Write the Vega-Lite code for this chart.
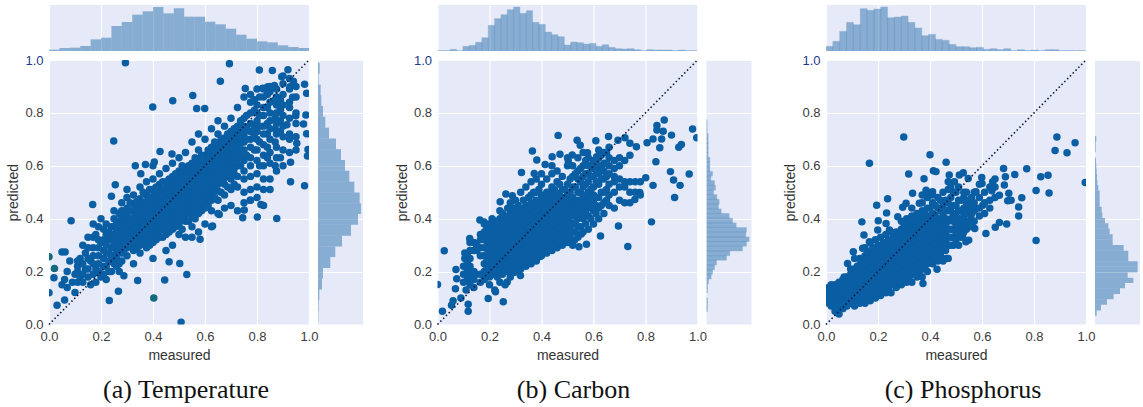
{"$schema":"https://vega.github.io/schema/vega-lite/v6.json","padding":{"left":6,"top":5,"right":0,"bottom":0},"background":"white","spacing":31.5,"config":{"view":{"fill":"#E6EAF8","stroke":null},"font":"Liberation Sans"},
"datasets":{
"pa":[{"x":0.294,"y":0.99},{"x":0.694,"y":0.986},{"x":0.809,"y":0.962},{"x":0.859,"y":0.96},{"x":0.919,"y":0.963},{"x":0.659,"y":0.92},{"x":0.895,"y":0.937},{"x":0.94,"y":0.92},{"x":0.983,"y":0.908},{"x":0.553,"y":0.866},{"x":0.476,"y":0.846},{"x":0.399,"y":0.822},{"x":0.568,"y":0.817},{"x":0.599,"y":0.817},{"x":0.249,"y":0.694},{"x":0.755,"y":0.892},{"x":0.822,"y":0.893},{"x":0.841,"y":0.899},{"x":0.867,"y":0.904},{"x":0.927,"y":0.899},{"x":0.991,"y":0.874},{"x":0.937,"y":0.859},{"x":0.988,"y":0.792},{"x":0.979,"y":0.758},{"x":0.991,"y":0.721},{"x":0.996,"y":0.662},{"x":0.994,"y":0.637},{"x":0.983,"y":0.525},{"x":0.929,"y":0.54},{"x":0.929,"y":0.613},{"x":0.953,"y":0.685},{"x":0.915,"y":0.755},{"x":0.949,"y":0.789},{"x":0.876,"y":0.401},{"x":0.801,"y":0.406},{"x":0.745,"y":0.404},{"x":0.815,"y":0.454},{"x":0.774,"y":0.47},{"x":0.751,"y":0.433},{"x":0.655,"y":0.416},{"x":0.629,"y":0.372},{"x":0.581,"y":0.322},{"x":0.53,"y":0.189},{"x":0.503,"y":0.231},{"x":0.462,"y":0.237},{"x":0.445,"y":0.168},{"x":0.508,"y":0.009},{"x":0.232,"y":0.091},{"x":0.267,"y":0.126},{"x":0.341,"y":0.166},{"x":0.288,"y":0.184},{"x":0.031,"y":0.073},{"x":0.06,"y":0.093},{"x":0.1,"y":0.121},{"x":0,"y":0.12},{"x":0.019,"y":0.177},{"x":0.05,"y":0.274},{"x":0.062,"y":0.274},{"x":0.085,"y":0.392},{"x":0.168,"y":0.454},{"x":0.255,"y":0.528},{"x":0.24,"y":0.485},{"x":0.332,"y":0.6},{"x":0.353,"y":0.57},{"x":0.427,"y":0.654},{"x":0.371,"y":0.605},{"x":0.405,"y":0.614},{"x":0.473,"y":0.645},
{"x":0.05,"y":0.15},{"x":0.06,"y":0.17},{"x":0.07,"y":0.14},{"x":0.07,"y":0.2},{"x":0.08,"y":0.24},{"x":0.09,"y":0.16},{"x":0.1,"y":0.19},{"x":0.11,"y":0.22},{"x":0.12,"y":0.18},{"x":0.12,"y":0.25},{"x":0.13,"y":0.16},{"x":0.13,"y":0.3},{"x":0.14,"y":0.21},{"x":0.14,"y":0.27},{"x":0.15,"y":0.18},{"x":0.15,"y":0.33},{"x":0.16,"y":0.15},{"x":0.16,"y":0.24},{"x":0.17,"y":0.29},{"x":0.17,"y":0.38},{"x":0.18,"y":0.16},{"x":0.18,"y":0.21},{"x":0.18,"y":0.34},{"x":0.19,"y":0.26},{"x":0.2,"y":0.18},{"x":0.2,"y":0.31},{"x":0.2,"y":0.4},{"x":0.21,"y":0.22},{"x":0.21,"y":0.36},{"x":0.22,"y":0.17},{"x":0.22,"y":0.27},{"x":0.23,"y":0.32},{"x":0.23,"y":0.24},{"x":0.24,"y":0.2},{"x":0.24,"y":0.29},{"x":0.24,"y":0.37},{"x":0.25,"y":0.26},{"x":0.25,"y":0.34},{"x":0.25,"y":0.43},{"x":0.26,"y":0.22},{"x":0.26,"y":0.3},{"x":0.26,"y":0.39},
{"x":0.11,"y":0.16},{"x":0.11,"y":0.2},{"x":0.11,"y":0.24},{"x":0.13,"y":0.19},{"x":0.13,"y":0.23},{"x":0.15,"y":0.21},{"x":0.15,"y":0.25},{"x":0.15,"y":0.29},{"x":0.17,"y":0.19},{"x":0.17,"y":0.23},{"x":0.17,"y":0.26},{"x":0.17,"y":0.33},{"x":0.19,"y":0.2},{"x":0.19,"y":0.23},{"x":0.19,"y":0.29},{"x":0.19,"y":0.32},{"x":0.19,"y":0.37},{"x":0.21,"y":0.19},{"x":0.21,"y":0.25},{"x":0.21,"y":0.28},{"x":0.21,"y":0.32},{"x":0.22,"y":0.22},{"x":0.22,"y":0.3},{"x":0.22,"y":0.34},{"x":0.22,"y":0.38},{"x":0.23,"y":0.2},{"x":0.23,"y":0.27},{"x":0.23,"y":0.35},{"x":0.24,"y":0.24},{"x":0.24,"y":0.26},{"x":0.24,"y":0.32},{"x":0.24,"y":0.34},{"x":0.25,"y":0.23},{"x":0.25,"y":0.29},{"x":0.25,"y":0.31},{"x":0.25,"y":0.37},{"x":0.25,"y":0.4},{"x":0.26,"y":0.25},{"x":0.26,"y":0.27},{"x":0.26,"y":0.33},{"x":0.26,"y":0.36},{"x":0.27,"y":0.2},{"x":0.27,"y":0.23},{"x":0.27,"y":0.28},{"x":0.27,"y":0.31},{"x":0.27,"y":0.35},{"x":0.27,"y":0.38},{"x":0.27,"y":0.42},
{"x":0.28,"y":0.24},{"x":0.28,"y":0.27},{"x":0.28,"y":0.3},{"x":0.28,"y":0.325},{"x":0.28,"y":0.35},{"x":0.28,"y":0.375},{"x":0.28,"y":0.4},{"x":0.28,"y":0.43},{"x":0.28,"y":0.46},
{"x":0.3,"y":0.26},{"x":0.3,"y":0.29},{"x":0.3,"y":0.315},{"x":0.3,"y":0.34},{"x":0.3,"y":0.365},{"x":0.3,"y":0.39},{"x":0.3,"y":0.415},{"x":0.3,"y":0.44},{"x":0.3,"y":0.48},{"x":0.3,"y":0.51},
{"x":0.325,"y":0.23},{"x":0.325,"y":0.28},{"x":0.325,"y":0.305},{"x":0.325,"y":0.33},{"x":0.325,"y":0.355},{"x":0.325,"y":0.38},{"x":0.325,"y":0.405},{"x":0.325,"y":0.43},{"x":0.325,"y":0.455},{"x":0.325,"y":0.49},
{"x":0.35,"y":0.27},{"x":0.35,"y":0.3},{"x":0.35,"y":0.325},{"x":0.35,"y":0.35},{"x":0.35,"y":0.375},{"x":0.35,"y":0.4},{"x":0.35,"y":0.425},{"x":0.35,"y":0.45},{"x":0.35,"y":0.475},{"x":0.35,"y":0.52},
{"x":0.375,"y":0.29},{"x":0.375,"y":0.315},{"x":0.375,"y":0.34},{"x":0.375,"y":0.365},{"x":0.375,"y":0.39},{"x":0.375,"y":0.415},{"x":0.375,"y":0.44},{"x":0.375,"y":0.465},{"x":0.375,"y":0.49},{"x":0.375,"y":0.54},
{"x":0.4,"y":0.25},{"x":0.4,"y":0.31},{"x":0.4,"y":0.335},{"x":0.4,"y":0.36},{"x":0.4,"y":0.385},{"x":0.4,"y":0.41},{"x":0.4,"y":0.435},{"x":0.4,"y":0.46},{"x":0.4,"y":0.485},{"x":0.4,"y":0.51},{"x":0.4,"y":0.55},{"x":0.4,"y":0.6},
{"x":0.425,"y":0.33},{"x":0.425,"y":0.355},{"x":0.425,"y":0.38},{"x":0.425,"y":0.405},{"x":0.425,"y":0.43},{"x":0.425,"y":0.455},{"x":0.425,"y":0.48},{"x":0.425,"y":0.505},{"x":0.425,"y":0.53},{"x":0.425,"y":0.57},
{"x":0.45,"y":0.28},{"x":0.45,"y":0.34},{"x":0.45,"y":0.365},{"x":0.45,"y":0.39},{"x":0.45,"y":0.415},{"x":0.45,"y":0.44},{"x":0.45,"y":0.465},{"x":0.45,"y":0.49},{"x":0.45,"y":0.515},{"x":0.45,"y":0.54},{"x":0.45,"y":0.59},
{"x":0.475,"y":0.3},{"x":0.475,"y":0.36},{"x":0.475,"y":0.385},{"x":0.475,"y":0.41},{"x":0.475,"y":0.435},{"x":0.475,"y":0.46},{"x":0.475,"y":0.485},{"x":0.475,"y":0.51},{"x":0.475,"y":0.535},{"x":0.475,"y":0.56},{"x":0.475,"y":0.61},
{"x":0.5,"y":0.34},{"x":0.5,"y":0.38},{"x":0.5,"y":0.405},{"x":0.5,"y":0.43},{"x":0.5,"y":0.455},{"x":0.5,"y":0.48},{"x":0.5,"y":0.505},{"x":0.5,"y":0.53},{"x":0.5,"y":0.555},{"x":0.5,"y":0.58},{"x":0.5,"y":0.63},
{"x":0.525,"y":0.33},{"x":0.525,"y":0.39},{"x":0.525,"y":0.415},{"x":0.525,"y":0.44},{"x":0.525,"y":0.465},{"x":0.525,"y":0.49},{"x":0.525,"y":0.515},{"x":0.525,"y":0.54},{"x":0.525,"y":0.565},{"x":0.525,"y":0.59},{"x":0.525,"y":0.65},
{"x":0.55,"y":0.33},{"x":0.55,"y":0.37},{"x":0.55,"y":0.41},{"x":0.55,"y":0.435},{"x":0.55,"y":0.46},{"x":0.55,"y":0.485},{"x":0.55,"y":0.51},{"x":0.55,"y":0.535},{"x":0.55,"y":0.56},{"x":0.55,"y":0.585},{"x":0.55,"y":0.61},{"x":0.55,"y":0.69},
{"x":0.575,"y":0.35},{"x":0.575,"y":0.42},{"x":0.575,"y":0.445},{"x":0.575,"y":0.47},{"x":0.575,"y":0.495},{"x":0.575,"y":0.52},{"x":0.575,"y":0.545},{"x":0.575,"y":0.57},{"x":0.575,"y":0.595},{"x":0.575,"y":0.62},{"x":0.575,"y":0.66},{"x":0.575,"y":0.72},
{"x":0.6,"y":0.38},{"x":0.6,"y":0.44},{"x":0.6,"y":0.465},{"x":0.6,"y":0.49},{"x":0.6,"y":0.515},{"x":0.6,"y":0.54},{"x":0.6,"y":0.565},{"x":0.6,"y":0.59},{"x":0.6,"y":0.615},{"x":0.6,"y":0.64},{"x":0.6,"y":0.7},
{"x":0.625,"y":0.37},{"x":0.625,"y":0.43},{"x":0.625,"y":0.47},{"x":0.625,"y":0.495},{"x":0.625,"y":0.52},{"x":0.625,"y":0.545},{"x":0.625,"y":0.57},{"x":0.625,"y":0.595},{"x":0.625,"y":0.62},{"x":0.625,"y":0.645},{"x":0.625,"y":0.67},{"x":0.625,"y":0.74},
{"x":0.65,"y":0.42},{"x":0.65,"y":0.47},{"x":0.65,"y":0.505},{"x":0.65,"y":0.53},{"x":0.65,"y":0.555},{"x":0.65,"y":0.58},{"x":0.65,"y":0.605},{"x":0.65,"y":0.63},{"x":0.65,"y":0.655},{"x":0.65,"y":0.68},{"x":0.65,"y":0.72},{"x":0.65,"y":0.77},
{"x":0.675,"y":0.44},{"x":0.675,"y":0.49},{"x":0.675,"y":0.53},{"x":0.675,"y":0.555},{"x":0.675,"y":0.58},{"x":0.675,"y":0.605},{"x":0.675,"y":0.63},{"x":0.675,"y":0.655},{"x":0.675,"y":0.68},{"x":0.675,"y":0.705},{"x":0.675,"y":0.75},
{"x":0.7,"y":0.45},{"x":0.7,"y":0.51},{"x":0.7,"y":0.55},{"x":0.7,"y":0.58},{"x":0.7,"y":0.605},{"x":0.7,"y":0.63},{"x":0.7,"y":0.655},{"x":0.7,"y":0.68},{"x":0.7,"y":0.705},{"x":0.7,"y":0.73},{"x":0.7,"y":0.78},
{"x":0.725,"y":0.43},{"x":0.725,"y":0.52},{"x":0.725,"y":0.56},{"x":0.725,"y":0.6},{"x":0.725,"y":0.625},{"x":0.725,"y":0.65},{"x":0.725,"y":0.675},{"x":0.725,"y":0.7},{"x":0.725,"y":0.725},{"x":0.725,"y":0.75},{"x":0.725,"y":0.82},
{"x":0.75,"y":0.46},{"x":0.75,"y":0.5},{"x":0.75,"y":0.55},{"x":0.75,"y":0.58},{"x":0.75,"y":0.62},{"x":0.75,"y":0.66},{"x":0.75,"y":0.69},{"x":0.75,"y":0.72},{"x":0.75,"y":0.75},{"x":0.75,"y":0.78},{"x":0.75,"y":0.86},
{"x":0.775,"y":0.47},{"x":0.775,"y":0.51},{"x":0.775,"y":0.56},{"x":0.775,"y":0.6},{"x":0.775,"y":0.63},{"x":0.775,"y":0.67},{"x":0.775,"y":0.7},{"x":0.775,"y":0.73},{"x":0.775,"y":0.76},{"x":0.775,"y":0.8},{"x":0.775,"y":0.84},{"x":0.775,"y":0.87},
{"x":0.8,"y":0.48},{"x":0.8,"y":0.52},{"x":0.8,"y":0.57},{"x":0.8,"y":0.62},{"x":0.8,"y":0.66},{"x":0.8,"y":0.7},{"x":0.8,"y":0.73},{"x":0.8,"y":0.77},{"x":0.8,"y":0.8},{"x":0.8,"y":0.83},{"x":0.8,"y":0.89},
{"x":0.825,"y":0.45},{"x":0.825,"y":0.51},{"x":0.825,"y":0.55},{"x":0.825,"y":0.6},{"x":0.825,"y":0.64},{"x":0.825,"y":0.68},{"x":0.825,"y":0.72},{"x":0.825,"y":0.75},{"x":0.825,"y":0.79},{"x":0.825,"y":0.82},{"x":0.825,"y":0.86},{"x":0.825,"y":0.89},
{"x":0.85,"y":0.51},{"x":0.85,"y":0.55},{"x":0.85,"y":0.61},{"x":0.85,"y":0.65},{"x":0.85,"y":0.7},{"x":0.85,"y":0.74},{"x":0.85,"y":0.77},{"x":0.85,"y":0.8},{"x":0.85,"y":0.84},{"x":0.85,"y":0.88},{"x":0.85,"y":0.9},
{"x":0.875,"y":0.58},{"x":0.875,"y":0.63},{"x":0.875,"y":0.67},{"x":0.875,"y":0.72},{"x":0.875,"y":0.76},{"x":0.875,"y":0.8},{"x":0.875,"y":0.83},{"x":0.875,"y":0.86},{"x":0.875,"y":0.89},
{"x":0.9,"y":0.6},{"x":0.9,"y":0.66},{"x":0.9,"y":0.71},{"x":0.9,"y":0.75},{"x":0.9,"y":0.79},{"x":0.9,"y":0.83},{"x":0.9,"y":0.87},{"x":0.9,"y":0.91},{"x":0.9,"y":0.94},
{"x":0.925,"y":0.65},{"x":0.925,"y":0.7},{"x":0.925,"y":0.72},{"x":0.925,"y":0.78},{"x":0.925,"y":0.82},{"x":0.925,"y":0.84},{"x":0.925,"y":0.89},{"x":0.925,"y":0.93},
{"x":0.95,"y":0.66},{"x":0.95,"y":0.71},{"x":0.95,"y":0.76},{"x":0.95,"y":0.8},{"x":0.95,"y":0.86},{"x":0.95,"y":0.9},
{"x":0.29,"y":0.285},{"x":0.29,"y":0.31},{"x":0.29,"y":0.335},{"x":0.29,"y":0.36},{"x":0.29,"y":0.385},{"x":0.29,"y":0.41},{"x":0.312,"y":0.3},{"x":0.312,"y":0.325},{"x":0.312,"y":0.35},{"x":0.312,"y":0.375},{"x":0.312,"y":0.4},{"x":0.312,"y":0.43},{"x":0.312,"y":0.46},{"x":0.337,"y":0.29},{"x":0.337,"y":0.315},{"x":0.337,"y":0.34},{"x":0.337,"y":0.365},{"x":0.337,"y":0.39},{"x":0.337,"y":0.415},{"x":0.337,"y":0.44},{"x":0.337,"y":0.465},{"x":0.362,"y":0.31},{"x":0.362,"y":0.335},{"x":0.362,"y":0.36},{"x":0.362,"y":0.385},{"x":0.362,"y":0.41},{"x":0.362,"y":0.435},{"x":0.362,"y":0.46},{"x":0.362,"y":0.5},{"x":0.387,"y":0.3},{"x":0.387,"y":0.33},{"x":0.387,"y":0.355},{"x":0.387,"y":0.38},{"x":0.387,"y":0.405},{"x":0.387,"y":0.43},{"x":0.387,"y":0.455},{"x":0.387,"y":0.48},{"x":0.387,"y":0.51},{"x":0.412,"y":0.32},{"x":0.412,"y":0.345},{"x":0.412,"y":0.37},{"x":0.412,"y":0.395},{"x":0.412,"y":0.42},{"x":0.412,"y":0.445},{"x":0.412,"y":0.47},{"x":0.412,"y":0.495},{"x":0.412,"y":0.52},{"x":0.437,"y":0.33},{"x":0.437,"y":0.36},{"x":0.437,"y":0.385},{"x":0.437,"y":0.41},{"x":0.437,"y":0.435},{"x":0.437,"y":0.46},{"x":0.437,"y":0.485},{"x":0.437,"y":0.51},{"x":0.437,"y":0.54},{"x":0.462,"y":0.35},{"x":0.462,"y":0.375},{"x":0.462,"y":0.4},{"x":0.462,"y":0.425},{"x":0.462,"y":0.45},{"x":0.462,"y":0.475},{"x":0.462,"y":0.5},{"x":0.462,"y":0.525},{"x":0.462,"y":0.55},{"x":0.487,"y":0.37},{"x":0.487,"y":0.395},{"x":0.487,"y":0.42},{"x":0.487,"y":0.445},{"x":0.487,"y":0.47},{"x":0.487,"y":0.495},{"x":0.487,"y":0.52},{"x":0.487,"y":0.545},{"x":0.487,"y":0.57},{"x":0.512,"y":0.36},{"x":0.512,"y":0.395},{"x":0.512,"y":0.42},{"x":0.512,"y":0.445},{"x":0.512,"y":0.47},{"x":0.512,"y":0.495},{"x":0.512,"y":0.52},{"x":0.512,"y":0.545},{"x":0.512,"y":0.57},{"x":0.512,"y":0.6},{"x":0.537,"y":0.39},{"x":0.537,"y":0.42},{"x":0.537,"y":0.45},{"x":0.537,"y":0.475},{"x":0.537,"y":0.5},{"x":0.537,"y":0.525},{"x":0.537,"y":0.55},{"x":0.537,"y":0.575},{"x":0.537,"y":0.6},{"x":0.562,"y":0.4},{"x":0.562,"y":0.425},{"x":0.562,"y":0.45},{"x":0.562,"y":0.475},{"x":0.562,"y":0.5},{"x":0.562,"y":0.525},{"x":0.562,"y":0.55},{"x":0.562,"y":0.575},{"x":0.562,"y":0.6},{"x":0.562,"y":0.63},{"x":0.587,"y":0.43},{"x":0.587,"y":0.46},{"x":0.587,"y":0.485},{"x":0.587,"y":0.51},{"x":0.587,"y":0.535},{"x":0.587,"y":0.56},{"x":0.587,"y":0.585},{"x":0.587,"y":0.61},{"x":0.587,"y":0.64},{"x":0.612,"y":0.45},{"x":0.612,"y":0.48},{"x":0.612,"y":0.505},{"x":0.612,"y":0.53},{"x":0.612,"y":0.555},{"x":0.612,"y":0.58},{"x":0.612,"y":0.605},{"x":0.612,"y":0.63},{"x":0.612,"y":0.66},{"x":0.637,"y":0.48},{"x":0.637,"y":0.51},{"x":0.637,"y":0.535},{"x":0.637,"y":0.56},{"x":0.637,"y":0.585},{"x":0.637,"y":0.61},{"x":0.637,"y":0.635},{"x":0.637,"y":0.66},{"x":0.637,"y":0.69},{"x":0.662,"y":0.5},{"x":0.662,"y":0.54},{"x":0.662,"y":0.565},{"x":0.662,"y":0.59},{"x":0.662,"y":0.615},{"x":0.662,"y":0.64},{"x":0.662,"y":0.665},{"x":0.662,"y":0.7},{"x":0.687,"y":0.52},{"x":0.687,"y":0.56},{"x":0.687,"y":0.59},{"x":0.687,"y":0.615},{"x":0.687,"y":0.64},{"x":0.687,"y":0.665},{"x":0.687,"y":0.69},{"x":0.687,"y":0.72},{"x":0.712,"y":0.53},{"x":0.712,"y":0.57},{"x":0.712,"y":0.59},{"x":0.712,"y":0.615},{"x":0.712,"y":0.64},{"x":0.712,"y":0.665},{"x":0.712,"y":0.69},{"x":0.712,"y":0.715},{"x":0.712,"y":0.74},{"x":0.737,"y":0.6},{"x":0.737,"y":0.635},{"x":0.737,"y":0.66},{"x":0.737,"y":0.685},{"x":0.737,"y":0.71},{"x":0.737,"y":0.735},{"x":0.737,"y":0.77},{"x":0.76,"y":0.64},{"x":0.76,"y":0.7},{"x":0.76,"y":0.74},{"x":0.76,"y":0.79},{"x":0.79,"y":0.66},{"x":0.79,"y":0.71},{"x":0.79,"y":0.75},{"x":0.79,"y":0.81},{"x":0.79,"y":0.85},{"x":0.81,"y":0.6},{"x":0.81,"y":0.69},{"x":0.81,"y":0.75},{"x":0.81,"y":0.79},{"x":0.81,"y":0.86},{"x":0.84,"y":0.63},{"x":0.84,"y":0.67},{"x":0.84,"y":0.72},{"x":0.84,"y":0.76},{"x":0.84,"y":0.82},{"x":0.84,"y":0.87},{"x":0.87,"y":0.6},{"x":0.87,"y":0.69},{"x":0.87,"y":0.74},{"x":0.87,"y":0.78},{"x":0.87,"y":0.85},{"x":0.89,"y":0.63},{"x":0.89,"y":0.73},{"x":0.89,"y":0.77},{"x":0.89,"y":0.81},{"x":0.89,"y":0.85}],
"pat":[{"x":0.403,"y":0.1},{"x":0.021,"y":0.212},{"x":0,"y":0.256}],
"pb":[{"x":0.872,"y":0.773},{"x":0.981,"y":0.739},{"x":0.844,"y":0.752},{"x":0.844,"y":0.735},{"x":0.868,"y":0.731},{"x":0.9,"y":0.716},{"x":0.997,"y":0.706},{"x":0.658,"y":0.711},{"x":0.694,"y":0.697},{"x":0.721,"y":0.706},{"x":0.74,"y":0.685},{"x":0.765,"y":0.672},{"x":0.806,"y":0.687},{"x":0.829,"y":0.701},{"x":0.862,"y":0.701},{"x":0.855,"y":0.668},{"x":0.938,"y":0.681},{"x":0.928,"y":0.67},{"x":0.84,"y":0.615},{"x":0.896,"y":0.578},{"x":0.908,"y":0.546},{"x":0.968,"y":0.569},{"x":0.933,"y":0.526},{"x":0.912,"y":0.48},{"x":0.829,"y":0.526},{"x":0.801,"y":0.555},{"x":0.823,"y":0.388},{"x":0.732,"y":0.295},{"x":0.696,"y":0.372},{"x":0.778,"y":0.499},{"x":0.759,"y":0.473},{"x":0.026,"y":0.279},{"x":0,"y":0.151},{"x":0.019,"y":0.05},{"x":0.054,"y":0.073},{"x":0.118,"y":0.077},{"x":0.118,"y":0.05},{"x":0.195,"y":0.098},{"x":0.253,"y":0.086},{"x":0.223,"y":0.124},{"x":0.071,"y":0.208},{"x":0.074,"y":0.173},{"x":0.069,"y":0.135},{"x":0.319,"y":0.185},{"x":0.294,"y":0.197},{"x":0.268,"y":0.161},{"x":0.464,"y":0.715},{"x":0.537,"y":0.697},{"x":0.549,"y":0.678},{"x":0.609,"y":0.695},{"x":0.365,"y":0.656},{"x":0.382,"y":0.622},{"x":0.163,"y":0.395},{"x":0.179,"y":0.388},{"x":0.241,"y":0.464},{"x":0.263,"y":0.493},{"x":0.288,"y":0.487},{"x":0.124,"y":0.325},{"x":0.544,"y":0.294},{"x":0.573,"y":0.303},{"x":0.627,"y":0.335},{"x":0.553,"y":0.342},{"x":0.527,"y":0.319},{"x":0.395,"y":0.257},{"x":0.323,"y":0.575},{"x":0.372,"y":0.571},{"x":0.414,"y":0.605},{"x":0.441,"y":0.634},{"x":0.471,"y":0.644},{"x":0.503,"y":0.618},{"x":0.518,"y":0.641},{"x":0.577,"y":0.649},{"x":0.612,"y":0.634},{"x":0.06,"y":0.09},{"x":0.09,"y":0.1},{"x":0.11,"y":0.13},
{"x":0.1,"y":0.16},{"x":0.1,"y":0.19},{"x":0.1,"y":0.22},{"x":0.105,"y":0.25},{"x":0.105,"y":0.27},{"x":0.115,"y":0.17},{"x":0.115,"y":0.2},{"x":0.115,"y":0.23},{"x":0.115,"y":0.26},{"x":0.125,"y":0.15},{"x":0.125,"y":0.19},{"x":0.125,"y":0.22},{"x":0.125,"y":0.25},{"x":0.125,"y":0.28},{"x":0.125,"y":0.31},{"x":0.14,"y":0.14},{"x":0.14,"y":0.17},{"x":0.14,"y":0.2},{"x":0.14,"y":0.28},{"x":0.14,"y":0.31},{"x":0.15,"y":0.19},{"x":0.15,"y":0.28},{"x":0.15,"y":0.3},{"x":0.165,"y":0.16},{"x":0.165,"y":0.19},{"x":0.165,"y":0.26},{"x":0.165,"y":0.29},{"x":0.165,"y":0.32},{"x":0.165,"y":0.34},
{"x":0.18,"y":0.17},{"x":0.18,"y":0.2},{"x":0.18,"y":0.23},{"x":0.18,"y":0.26},{"x":0.18,"y":0.29},{"x":0.18,"y":0.32},{"x":0.18,"y":0.35},{"x":0.18,"y":0.38},
{"x":0.2,"y":0.15},{"x":0.2,"y":0.18},{"x":0.2,"y":0.205},{"x":0.2,"y":0.23},{"x":0.2,"y":0.255},{"x":0.2,"y":0.28},{"x":0.2,"y":0.305},{"x":0.2,"y":0.33},{"x":0.2,"y":0.355},{"x":0.2,"y":0.38},
{"x":0.22,"y":0.13},{"x":0.22,"y":0.19},{"x":0.22,"y":0.215},{"x":0.22,"y":0.24},{"x":0.22,"y":0.265},{"x":0.22,"y":0.29},{"x":0.22,"y":0.315},{"x":0.22,"y":0.34},{"x":0.22,"y":0.365},{"x":0.22,"y":0.39},
{"x":0.24,"y":0.16},{"x":0.24,"y":0.2},{"x":0.24,"y":0.225},{"x":0.24,"y":0.25},{"x":0.24,"y":0.275},{"x":0.24,"y":0.3},{"x":0.24,"y":0.325},{"x":0.24,"y":0.35},{"x":0.24,"y":0.375},{"x":0.24,"y":0.4},{"x":0.24,"y":0.43},
{"x":0.26,"y":0.15},{"x":0.26,"y":0.21},{"x":0.26,"y":0.235},{"x":0.26,"y":0.26},{"x":0.26,"y":0.285},{"x":0.26,"y":0.31},{"x":0.26,"y":0.335},{"x":0.26,"y":0.36},{"x":0.26,"y":0.385},{"x":0.26,"y":0.41},
{"x":0.28,"y":0.18},{"x":0.28,"y":0.22},{"x":0.28,"y":0.245},{"x":0.28,"y":0.27},{"x":0.28,"y":0.295},{"x":0.28,"y":0.32},{"x":0.28,"y":0.345},{"x":0.28,"y":0.37},{"x":0.28,"y":0.395},{"x":0.28,"y":0.42},{"x":0.28,"y":0.46},
{"x":0.3,"y":0.2},{"x":0.3,"y":0.23},{"x":0.3,"y":0.255},{"x":0.3,"y":0.28},{"x":0.3,"y":0.305},{"x":0.3,"y":0.33},{"x":0.3,"y":0.355},{"x":0.3,"y":0.38},{"x":0.3,"y":0.405},{"x":0.3,"y":0.43},{"x":0.3,"y":0.47},
{"x":0.32,"y":0.21},{"x":0.32,"y":0.24},{"x":0.32,"y":0.265},{"x":0.32,"y":0.29},{"x":0.32,"y":0.315},{"x":0.32,"y":0.34},{"x":0.32,"y":0.365},{"x":0.32,"y":0.39},{"x":0.32,"y":0.415},{"x":0.32,"y":0.44},{"x":0.32,"y":0.5},
{"x":0.34,"y":0.22},{"x":0.34,"y":0.25},{"x":0.34,"y":0.275},{"x":0.34,"y":0.3},{"x":0.34,"y":0.325},{"x":0.34,"y":0.35},{"x":0.34,"y":0.375},{"x":0.34,"y":0.4},{"x":0.34,"y":0.425},{"x":0.34,"y":0.45},{"x":0.34,"y":0.52},
{"x":0.36,"y":0.23},{"x":0.36,"y":0.26},{"x":0.36,"y":0.285},{"x":0.36,"y":0.31},{"x":0.36,"y":0.335},{"x":0.36,"y":0.36},{"x":0.36,"y":0.385},{"x":0.36,"y":0.41},{"x":0.36,"y":0.435},{"x":0.36,"y":0.46},{"x":0.36,"y":0.49},{"x":0.36,"y":0.54},
{"x":0.38,"y":0.24},{"x":0.38,"y":0.27},{"x":0.38,"y":0.295},{"x":0.38,"y":0.32},{"x":0.38,"y":0.345},{"x":0.38,"y":0.37},{"x":0.38,"y":0.395},{"x":0.38,"y":0.42},{"x":0.38,"y":0.445},{"x":0.38,"y":0.47},{"x":0.38,"y":0.5},{"x":0.38,"y":0.55},
{"x":0.4,"y":0.26},{"x":0.4,"y":0.29},{"x":0.4,"y":0.315},{"x":0.4,"y":0.34},{"x":0.4,"y":0.365},{"x":0.4,"y":0.39},{"x":0.4,"y":0.415},{"x":0.4,"y":0.44},{"x":0.4,"y":0.465},{"x":0.4,"y":0.49},{"x":0.4,"y":0.53},{"x":0.4,"y":0.57},
{"x":0.42,"y":0.27},{"x":0.42,"y":0.3},{"x":0.42,"y":0.325},{"x":0.42,"y":0.35},{"x":0.42,"y":0.375},{"x":0.42,"y":0.4},{"x":0.42,"y":0.425},{"x":0.42,"y":0.45},{"x":0.42,"y":0.475},{"x":0.42,"y":0.5},{"x":0.42,"y":0.55},
{"x":0.44,"y":0.28},{"x":0.44,"y":0.31},{"x":0.44,"y":0.335},{"x":0.44,"y":0.36},{"x":0.44,"y":0.385},{"x":0.44,"y":0.41},{"x":0.44,"y":0.435},{"x":0.44,"y":0.46},{"x":0.44,"y":0.485},{"x":0.44,"y":0.52},{"x":0.44,"y":0.57},{"x":0.44,"y":0.6},
{"x":0.46,"y":0.29},{"x":0.46,"y":0.32},{"x":0.46,"y":0.345},{"x":0.46,"y":0.37},{"x":0.46,"y":0.395},{"x":0.46,"y":0.42},{"x":0.46,"y":0.445},{"x":0.46,"y":0.47},{"x":0.46,"y":0.495},{"x":0.46,"y":0.54},{"x":0.46,"y":0.58},
{"x":0.48,"y":0.3},{"x":0.48,"y":0.33},{"x":0.48,"y":0.355},{"x":0.48,"y":0.38},{"x":0.48,"y":0.405},{"x":0.48,"y":0.43},{"x":0.48,"y":0.455},{"x":0.48,"y":0.48},{"x":0.48,"y":0.51},{"x":0.48,"y":0.56},
{"x":0.5,"y":0.31},{"x":0.5,"y":0.34},{"x":0.5,"y":0.365},{"x":0.5,"y":0.39},{"x":0.5,"y":0.415},{"x":0.5,"y":0.44},{"x":0.5,"y":0.465},{"x":0.5,"y":0.49},{"x":0.5,"y":0.53},{"x":0.5,"y":0.6},{"x":0.5,"y":0.63},
{"x":0.52,"y":0.3},{"x":0.52,"y":0.35},{"x":0.52,"y":0.38},{"x":0.52,"y":0.41},{"x":0.52,"y":0.44},{"x":0.52,"y":0.46},{"x":0.52,"y":0.48},{"x":0.52,"y":0.52},{"x":0.52,"y":0.56},{"x":0.52,"y":0.6},
{"x":0.54,"y":0.33},{"x":0.54,"y":0.37},{"x":0.54,"y":0.4},{"x":0.54,"y":0.43},{"x":0.54,"y":0.45},{"x":0.54,"y":0.47},{"x":0.54,"y":0.5},{"x":0.54,"y":0.55},{"x":0.54,"y":0.58},{"x":0.54,"y":0.63},
{"x":0.56,"y":0.35},{"x":0.56,"y":0.4},{"x":0.56,"y":0.43},{"x":0.56,"y":0.46},{"x":0.56,"y":0.48},{"x":0.56,"y":0.52},{"x":0.56,"y":0.56},{"x":0.56,"y":0.6},{"x":0.56,"y":0.65},
{"x":0.58,"y":0.36},{"x":0.58,"y":0.41},{"x":0.58,"y":0.44},{"x":0.58,"y":0.47},{"x":0.58,"y":0.5},{"x":0.58,"y":0.54},{"x":0.58,"y":0.57},{"x":0.58,"y":0.6},{"x":0.58,"y":0.63},
{"x":0.6,"y":0.38},{"x":0.6,"y":0.43},{"x":0.6,"y":0.46},{"x":0.6,"y":0.49},{"x":0.6,"y":0.52},{"x":0.6,"y":0.56},{"x":0.6,"y":0.59},{"x":0.6,"y":0.62},
{"x":0.62,"y":0.4},{"x":0.62,"y":0.44},{"x":0.62,"y":0.48},{"x":0.62,"y":0.53},{"x":0.62,"y":0.57},{"x":0.62,"y":0.6},{"x":0.62,"y":0.63},{"x":0.62,"y":0.66},
{"x":0.64,"y":0.42},{"x":0.64,"y":0.46},{"x":0.64,"y":0.5},{"x":0.64,"y":0.55},{"x":0.64,"y":0.58},{"x":0.64,"y":0.61},{"x":0.64,"y":0.65},
{"x":0.66,"y":0.45},{"x":0.66,"y":0.49},{"x":0.66,"y":0.53},{"x":0.66,"y":0.57},{"x":0.66,"y":0.6},{"x":0.66,"y":0.63},{"x":0.66,"y":0.67},
{"x":0.68,"y":0.44},{"x":0.68,"y":0.5},{"x":0.68,"y":0.54},{"x":0.68,"y":0.56},{"x":0.68,"y":0.59},{"x":0.68,"y":0.62},
{"x":0.7,"y":0.47},{"x":0.7,"y":0.52},{"x":0.7,"y":0.55},{"x":0.7,"y":0.6},{"x":0.7,"y":0.63},{"x":0.72,"y":0.46},{"x":0.72,"y":0.52},{"x":0.72,"y":0.54},{"x":0.72,"y":0.62},{"x":0.74,"y":0.46},{"x":0.74,"y":0.5},{"x":0.74,"y":0.54},{"x":0.74,"y":0.64},{"x":0.76,"y":0.5},{"x":0.76,"y":0.54},{"x":0.78,"y":0.49},{"x":0.78,"y":0.54},
{"x":0.19,"y":0.19},{"x":0.19,"y":0.215},{"x":0.19,"y":0.24},{"x":0.19,"y":0.265},{"x":0.19,"y":0.29},{"x":0.19,"y":0.315},{"x":0.19,"y":0.34},{"x":0.19,"y":0.365},{"x":0.21,"y":0.2},{"x":0.21,"y":0.225},{"x":0.21,"y":0.25},{"x":0.21,"y":0.275},{"x":0.21,"y":0.3},{"x":0.21,"y":0.325},{"x":0.21,"y":0.35},{"x":0.21,"y":0.375},{"x":0.21,"y":0.4},{"x":0.23,"y":0.18},{"x":0.23,"y":0.21},{"x":0.23,"y":0.235},{"x":0.23,"y":0.26},{"x":0.23,"y":0.285},{"x":0.23,"y":0.31},{"x":0.23,"y":0.335},{"x":0.23,"y":0.36},{"x":0.23,"y":0.385},{"x":0.25,"y":0.19},{"x":0.25,"y":0.22},{"x":0.25,"y":0.245},{"x":0.25,"y":0.27},{"x":0.25,"y":0.295},{"x":0.25,"y":0.32},{"x":0.25,"y":0.345},{"x":0.25,"y":0.37},{"x":0.25,"y":0.395},{"x":0.25,"y":0.42},{"x":0.27,"y":0.2},{"x":0.27,"y":0.225},{"x":0.27,"y":0.25},{"x":0.27,"y":0.275},{"x":0.27,"y":0.3},{"x":0.27,"y":0.325},{"x":0.27,"y":0.35},{"x":0.27,"y":0.375},{"x":0.27,"y":0.4},{"x":0.27,"y":0.44},{"x":0.29,"y":0.21},{"x":0.29,"y":0.235},{"x":0.29,"y":0.26},{"x":0.29,"y":0.285},{"x":0.29,"y":0.31},{"x":0.29,"y":0.335},{"x":0.29,"y":0.36},{"x":0.29,"y":0.385},{"x":0.29,"y":0.41},{"x":0.29,"y":0.44},{"x":0.31,"y":0.22},{"x":0.31,"y":0.245},{"x":0.31,"y":0.27},{"x":0.31,"y":0.295},{"x":0.31,"y":0.32},{"x":0.31,"y":0.345},{"x":0.31,"y":0.37},{"x":0.31,"y":0.395},{"x":0.31,"y":0.42},{"x":0.31,"y":0.45},{"x":0.33,"y":0.23},{"x":0.33,"y":0.255},{"x":0.33,"y":0.28},{"x":0.33,"y":0.305},{"x":0.33,"y":0.33},{"x":0.33,"y":0.355},{"x":0.33,"y":0.38},{"x":0.33,"y":0.405},{"x":0.33,"y":0.43},{"x":0.33,"y":0.47},{"x":0.35,"y":0.24},{"x":0.35,"y":0.265},{"x":0.35,"y":0.29},{"x":0.35,"y":0.315},{"x":0.35,"y":0.34},{"x":0.35,"y":0.365},{"x":0.35,"y":0.39},{"x":0.35,"y":0.415},{"x":0.35,"y":0.44},{"x":0.35,"y":0.48},{"x":0.37,"y":0.25},{"x":0.37,"y":0.275},{"x":0.37,"y":0.3},{"x":0.37,"y":0.325},{"x":0.37,"y":0.35},{"x":0.37,"y":0.375},{"x":0.37,"y":0.4},{"x":0.37,"y":0.425},{"x":0.37,"y":0.45},{"x":0.37,"y":0.5},{"x":0.39,"y":0.26},{"x":0.39,"y":0.285},{"x":0.39,"y":0.31},{"x":0.39,"y":0.335},{"x":0.39,"y":0.36},{"x":0.39,"y":0.385},{"x":0.39,"y":0.41},{"x":0.39,"y":0.435},{"x":0.39,"y":0.46},{"x":0.39,"y":0.51},{"x":0.41,"y":0.28},{"x":0.41,"y":0.305},{"x":0.41,"y":0.33},{"x":0.41,"y":0.355},{"x":0.41,"y":0.38},{"x":0.41,"y":0.405},{"x":0.41,"y":0.43},{"x":0.41,"y":0.455},{"x":0.41,"y":0.48},{"x":0.43,"y":0.29},{"x":0.43,"y":0.32},{"x":0.43,"y":0.345},{"x":0.43,"y":0.37},{"x":0.43,"y":0.395},{"x":0.43,"y":0.42},{"x":0.43,"y":0.445},{"x":0.43,"y":0.47},{"x":0.43,"y":0.5},{"x":0.45,"y":0.3},{"x":0.45,"y":0.33},{"x":0.45,"y":0.355},{"x":0.45,"y":0.38},{"x":0.45,"y":0.405},{"x":0.45,"y":0.43},{"x":0.45,"y":0.455},{"x":0.45,"y":0.48},{"x":0.45,"y":0.51},{"x":0.47,"y":0.31},{"x":0.47,"y":0.34},{"x":0.47,"y":0.365},{"x":0.47,"y":0.39},{"x":0.47,"y":0.415},{"x":0.47,"y":0.44},{"x":0.47,"y":0.465},{"x":0.47,"y":0.49},{"x":0.47,"y":0.53},{"x":0.49,"y":0.32},{"x":0.49,"y":0.35},{"x":0.49,"y":0.375},{"x":0.49,"y":0.4},{"x":0.49,"y":0.425},{"x":0.49,"y":0.45},{"x":0.49,"y":0.475},{"x":0.49,"y":0.51},{"x":0.51,"y":0.33},{"x":0.51,"y":0.36},{"x":0.51,"y":0.385},{"x":0.51,"y":0.41},{"x":0.51,"y":0.435},{"x":0.51,"y":0.465},{"x":0.51,"y":0.5},{"x":0.51,"y":0.55},{"x":0.53,"y":0.35},{"x":0.53,"y":0.385},{"x":0.53,"y":0.42},{"x":0.53,"y":0.44},{"x":0.53,"y":0.465},{"x":0.53,"y":0.52},{"x":0.53,"y":0.57},{"x":0.55,"y":0.37},{"x":0.55,"y":0.41},{"x":0.55,"y":0.44},{"x":0.55,"y":0.47},{"x":0.55,"y":0.5},{"x":0.55,"y":0.54},{"x":0.55,"y":0.59},{"x":0.57,"y":0.38},{"x":0.57,"y":0.42},{"x":0.57,"y":0.45},{"x":0.57,"y":0.49},{"x":0.57,"y":0.53},{"x":0.57,"y":0.57},{"x":0.57,"y":0.62},{"x":0.59,"y":0.4},{"x":0.59,"y":0.45},{"x":0.59,"y":0.48},{"x":0.59,"y":0.51},{"x":0.59,"y":0.56},{"x":0.59,"y":0.6},{"x":0.61,"y":0.42},{"x":0.61,"y":0.45},{"x":0.61,"y":0.48},{"x":0.61,"y":0.54},{"x":0.61,"y":0.58},{"x":0.61,"y":0.62},{"x":0.63,"y":0.45},{"x":0.63,"y":0.5},{"x":0.63,"y":0.55},{"x":0.63,"y":0.59},{"x":0.63,"y":0.64},{"x":0.65,"y":0.47},{"x":0.65,"y":0.51},{"x":0.65,"y":0.56},{"x":0.65,"y":0.61},{"x":0.65,"y":0.65}],
"pc":[{"x":0.299,"y":0.709},{"x":0.888,"y":0.709},{"x":0.958,"y":0.687},{"x":0.881,"y":0.658},{"x":0.927,"y":0.649},{"x":0.4,"y":0.642},{"x":0.167,"y":0.61},{"x":0.462,"y":0.613},{"x":0.997,"y":0.537},{"x":0.683,"y":0.59},{"x":0.772,"y":0.589},{"x":0.726,"y":0.567},{"x":0.826,"y":0.559},{"x":0.854,"y":0.564},{"x":0.808,"y":0.507},{"x":0.858,"y":0.497},{"x":0.753,"y":0.479},{"x":0.741,"y":0.444},{"x":0.741,"y":0.41},{"x":0.808,"y":0.318},{"x":0.695,"y":0.38},{"x":0.667,"y":0.386},{"x":0.651,"y":0.368},{"x":0.615,"y":0.344},{"x":0.572,"y":0.363},{"x":0.318,"y":0.569},{"x":0.237,"y":0.475},{"x":0.195,"y":0.451},{"x":0.233,"y":0.422},{"x":0.138,"y":0.388},{"x":0.201,"y":0.392},{"x":0.146,"y":0.338},{"x":0.373,"y":0.155},{"x":0.427,"y":0.209},{"x":0.462,"y":0.25},{"x":0.377,"y":0.551},{"x":0.413,"y":0.581},{"x":0.423,"y":0.578},{"x":0.474,"y":0.565},{"x":0.513,"y":0.565},{"x":0.528,"y":0.574},{"x":0.494,"y":0.54},{"x":0.547,"y":0.552},{"x":0.599,"y":0.556},{"x":0.65,"y":0.55},{"x":0.69,"y":0.559},{"x":0.686,"y":0.527},{"x":0.641,"y":0.54},{"x":0.6,"y":0.533},{"x":0.577,"y":0.502},{"x":0.638,"y":0.506},{"x":0.703,"y":0.496},{"x":0.667,"y":0.489},{"x":0.699,"y":0.468},{"x":0.712,"y":0.47},{"x":0.577,"y":0.439},{"x":0.603,"y":0.451},{"x":0.558,"y":0.401},{"x":0.526,"y":0.332},{"x":0.549,"y":0.319},{"x":0.538,"y":0.313},{"x":0.333,"y":0.496},{"x":0.385,"y":0.508},{"x":0.41,"y":0.502},{"x":0.359,"y":0.458},{"x":0.308,"y":0.458},{"x":0.295,"y":0.443},{"x":0.276,"y":0.407},{"x":0.231,"y":0.382},{"x":0.244,"y":0.357},{"x":0.199,"y":0.357},{"x":0.167,"y":0.313},{"x":0.141,"y":0.288},{"x":0.105,"y":0.275},{"x":0.083,"y":0.231},
{"x":0,"y":0.09},{"x":0,"y":0.11},{"x":0,"y":0.13},{"x":0.01,"y":0.08},{"x":0.01,"y":0.1},{"x":0.01,"y":0.12},{"x":0.01,"y":0.14},{"x":0.02,"y":0.07},{"x":0.02,"y":0.09},{"x":0.02,"y":0.115},{"x":0.02,"y":0.135},{"x":0.02,"y":0.15},{"x":0.035,"y":0.05},{"x":0.035,"y":0.07},{"x":0.035,"y":0.09},{"x":0.035,"y":0.11},{"x":0.035,"y":0.13},{"x":0.035,"y":0.15},{"x":0.05,"y":0.04},{"x":0.05,"y":0.07},{"x":0.05,"y":0.095},{"x":0.05,"y":0.12},{"x":0.05,"y":0.14},{"x":0.05,"y":0.16},{"x":0.065,"y":0.06},{"x":0.065,"y":0.085},{"x":0.065,"y":0.11},{"x":0.065,"y":0.13},{"x":0.065,"y":0.15},{"x":0.065,"y":0.17},{"x":0.08,"y":0.07},{"x":0.08,"y":0.09},{"x":0.08,"y":0.115},{"x":0.08,"y":0.14},{"x":0.08,"y":0.16},{"x":0.08,"y":0.18},{"x":0.095,"y":0.08},{"x":0.095,"y":0.1},{"x":0.095,"y":0.125},{"x":0.095,"y":0.15},{"x":0.095,"y":0.17},{"x":0.095,"y":0.19},{"x":0.095,"y":0.21},
{"x":0.11,"y":0.07},{"x":0.11,"y":0.09},{"x":0.11,"y":0.115},{"x":0.11,"y":0.14},{"x":0.11,"y":0.16},{"x":0.11,"y":0.185},{"x":0.11,"y":0.21},{"x":0.11,"y":0.25},
{"x":0.13,"y":0.08},{"x":0.13,"y":0.105},{"x":0.13,"y":0.13},{"x":0.13,"y":0.155},{"x":0.13,"y":0.18},{"x":0.13,"y":0.2},{"x":0.13,"y":0.225},{"x":0.13,"y":0.25},
{"x":0.15,"y":0.08},{"x":0.15,"y":0.11},{"x":0.15,"y":0.135},{"x":0.15,"y":0.16},{"x":0.15,"y":0.185},{"x":0.15,"y":0.21},{"x":0.15,"y":0.235},{"x":0.15,"y":0.26},{"x":0.15,"y":0.29},
{"x":0.17,"y":0.09},{"x":0.17,"y":0.12},{"x":0.17,"y":0.145},{"x":0.17,"y":0.17},{"x":0.17,"y":0.195},{"x":0.17,"y":0.22},{"x":0.17,"y":0.245},{"x":0.17,"y":0.27},{"x":0.17,"y":0.31},
{"x":0.19,"y":0.1},{"x":0.19,"y":0.13},{"x":0.19,"y":0.155},{"x":0.19,"y":0.18},{"x":0.19,"y":0.205},{"x":0.19,"y":0.23},{"x":0.19,"y":0.255},{"x":0.19,"y":0.28},{"x":0.19,"y":0.32},
{"x":0.21,"y":0.11},{"x":0.21,"y":0.14},{"x":0.21,"y":0.165},{"x":0.21,"y":0.19},{"x":0.21,"y":0.215},{"x":0.21,"y":0.24},{"x":0.21,"y":0.265},{"x":0.21,"y":0.29},{"x":0.21,"y":0.33},
{"x":0.23,"y":0.12},{"x":0.23,"y":0.15},{"x":0.23,"y":0.175},{"x":0.23,"y":0.2},{"x":0.23,"y":0.225},{"x":0.23,"y":0.25},{"x":0.23,"y":0.275},{"x":0.23,"y":0.3},{"x":0.23,"y":0.34},
{"x":0.25,"y":0.12},{"x":0.25,"y":0.16},{"x":0.25,"y":0.185},{"x":0.25,"y":0.21},{"x":0.25,"y":0.235},{"x":0.25,"y":0.26},{"x":0.25,"y":0.285},{"x":0.25,"y":0.31},{"x":0.25,"y":0.35},
{"x":0.27,"y":0.14},{"x":0.27,"y":0.17},{"x":0.27,"y":0.195},{"x":0.27,"y":0.22},{"x":0.27,"y":0.245},{"x":0.27,"y":0.27},{"x":0.27,"y":0.295},{"x":0.27,"y":0.32},{"x":0.27,"y":0.35},
{"x":0.29,"y":0.15},{"x":0.29,"y":0.18},{"x":0.29,"y":0.205},{"x":0.29,"y":0.23},{"x":0.29,"y":0.255},{"x":0.29,"y":0.28},{"x":0.29,"y":0.305},{"x":0.29,"y":0.33},{"x":0.29,"y":0.36},{"x":0.29,"y":0.39},
{"x":0.31,"y":0.16},{"x":0.31,"y":0.19},{"x":0.31,"y":0.215},{"x":0.31,"y":0.24},{"x":0.31,"y":0.265},{"x":0.31,"y":0.29},{"x":0.31,"y":0.315},{"x":0.31,"y":0.34},{"x":0.31,"y":0.365},{"x":0.31,"y":0.4},
{"x":0.33,"y":0.16},{"x":0.33,"y":0.2},{"x":0.33,"y":0.225},{"x":0.33,"y":0.25},{"x":0.33,"y":0.275},{"x":0.33,"y":0.3},{"x":0.33,"y":0.325},{"x":0.33,"y":0.35},{"x":0.33,"y":0.375},{"x":0.33,"y":0.41},{"x":0.33,"y":0.44},
{"x":0.35,"y":0.18},{"x":0.35,"y":0.21},{"x":0.35,"y":0.235},{"x":0.35,"y":0.26},{"x":0.35,"y":0.285},{"x":0.35,"y":0.31},{"x":0.35,"y":0.335},{"x":0.35,"y":0.36},{"x":0.35,"y":0.385},{"x":0.35,"y":0.42},
{"x":0.37,"y":0.18},{"x":0.37,"y":0.22},{"x":0.37,"y":0.245},{"x":0.37,"y":0.27},{"x":0.37,"y":0.295},{"x":0.37,"y":0.32},{"x":0.37,"y":0.345},{"x":0.37,"y":0.37},{"x":0.37,"y":0.395},{"x":0.37,"y":0.43},{"x":0.37,"y":0.46},{"x":0.37,"y":0.49},
{"x":0.39,"y":0.2},{"x":0.39,"y":0.23},{"x":0.39,"y":0.255},{"x":0.39,"y":0.28},{"x":0.39,"y":0.305},{"x":0.39,"y":0.33},{"x":0.39,"y":0.355},{"x":0.39,"y":0.38},{"x":0.39,"y":0.41},{"x":0.39,"y":0.44},{"x":0.39,"y":0.48},{"x":0.39,"y":0.5},
{"x":0.41,"y":0.23},{"x":0.41,"y":0.26},{"x":0.41,"y":0.285},{"x":0.41,"y":0.31},{"x":0.41,"y":0.335},{"x":0.41,"y":0.36},{"x":0.41,"y":0.39},{"x":0.41,"y":0.42},{"x":0.41,"y":0.46},{"x":0.41,"y":0.49},
{"x":0.43,"y":0.24},{"x":0.43,"y":0.27},{"x":0.43,"y":0.295},{"x":0.43,"y":0.32},{"x":0.43,"y":0.345},{"x":0.43,"y":0.37},{"x":0.43,"y":0.4},{"x":0.43,"y":0.44},{"x":0.43,"y":0.48},
{"x":0.45,"y":0.24},{"x":0.45,"y":0.28},{"x":0.45,"y":0.305},{"x":0.45,"y":0.33},{"x":0.45,"y":0.355},{"x":0.45,"y":0.38},{"x":0.45,"y":0.41},{"x":0.45,"y":0.45},{"x":0.45,"y":0.5},
{"x":0.47,"y":0.25},{"x":0.47,"y":0.3},{"x":0.47,"y":0.33},{"x":0.47,"y":0.36},{"x":0.47,"y":0.39},{"x":0.47,"y":0.43},{"x":0.47,"y":0.46},{"x":0.47,"y":0.51},{"x":0.47,"y":0.54},
{"x":0.49,"y":0.3},{"x":0.49,"y":0.33},{"x":0.49,"y":0.36},{"x":0.49,"y":0.39},{"x":0.49,"y":0.42},{"x":0.49,"y":0.45},{"x":0.49,"y":0.5},
{"x":0.51,"y":0.3},{"x":0.51,"y":0.34},{"x":0.51,"y":0.37},{"x":0.51,"y":0.4},{"x":0.51,"y":0.43},{"x":0.51,"y":0.47},{"x":0.51,"y":0.52},
{"x":0.53,"y":0.35},{"x":0.53,"y":0.38},{"x":0.53,"y":0.41},{"x":0.53,"y":0.44},{"x":0.53,"y":0.48},{"x":0.53,"y":0.5},{"x":0.55,"y":0.37},{"x":0.55,"y":0.42},{"x":0.55,"y":0.45},{"x":0.55,"y":0.47},{"x":0.57,"y":0.39},{"x":0.57,"y":0.43},{"x":0.57,"y":0.46},{"x":0.57,"y":0.5},{"x":0.59,"y":0.41},{"x":0.59,"y":0.44},{"x":0.59,"y":0.48},{"x":0.59,"y":0.53},{"x":0.61,"y":0.42},{"x":0.61,"y":0.46},{"x":0.61,"y":0.5},{"x":0.63,"y":0.44},{"x":0.63,"y":0.47},{"x":0.63,"y":0.52},{"x":0.65,"y":0.48},{"x":0.65,"y":0.52},
{"x":0.04,"y":0.06},{"x":0.04,"y":0.08},{"x":0.04,"y":0.1},{"x":0.04,"y":0.12},{"x":0.04,"y":0.14},{"x":0.06,"y":0.07},{"x":0.06,"y":0.1},{"x":0.06,"y":0.12},{"x":0.06,"y":0.14},{"x":0.06,"y":0.16},{"x":0.07,"y":0.09},{"x":0.07,"y":0.12},{"x":0.07,"y":0.14},{"x":0.07,"y":0.16},{"x":0.07,"y":0.18},{"x":0.085,"y":0.08},{"x":0.085,"y":0.105},{"x":0.085,"y":0.13},{"x":0.085,"y":0.15},{"x":0.085,"y":0.17},{"x":0.1,"y":0.09},{"x":0.1,"y":0.11},{"x":0.1,"y":0.135},{"x":0.1,"y":0.16},{"x":0.1,"y":0.18},{"x":0.1,"y":0.2},{"x":0.12,"y":0.085},{"x":0.12,"y":0.1},{"x":0.12,"y":0.125},{"x":0.12,"y":0.15},{"x":0.12,"y":0.175},{"x":0.12,"y":0.2},{"x":0.12,"y":0.22},{"x":0.14,"y":0.09},{"x":0.14,"y":0.12},{"x":0.14,"y":0.145},{"x":0.14,"y":0.17},{"x":0.14,"y":0.195},{"x":0.14,"y":0.22},{"x":0.14,"y":0.245},{"x":0.16,"y":0.1},{"x":0.16,"y":0.125},{"x":0.16,"y":0.15},{"x":0.16,"y":0.175},{"x":0.16,"y":0.2},{"x":0.16,"y":0.225},{"x":0.16,"y":0.25},{"x":0.16,"y":0.275},{"x":0.18,"y":0.11},{"x":0.18,"y":0.14},{"x":0.18,"y":0.165},{"x":0.18,"y":0.19},{"x":0.18,"y":0.215},{"x":0.18,"y":0.24},{"x":0.18,"y":0.265},{"x":0.18,"y":0.29},{"x":0.2,"y":0.12},{"x":0.2,"y":0.15},{"x":0.2,"y":0.175},{"x":0.2,"y":0.2},{"x":0.2,"y":0.225},{"x":0.2,"y":0.25},{"x":0.2,"y":0.275},{"x":0.2,"y":0.3},{"x":0.22,"y":0.13},{"x":0.22,"y":0.16},{"x":0.22,"y":0.185},{"x":0.22,"y":0.21},{"x":0.22,"y":0.235},{"x":0.22,"y":0.26},{"x":0.22,"y":0.285},{"x":0.22,"y":0.31},{"x":0.24,"y":0.14},{"x":0.24,"y":0.17},{"x":0.24,"y":0.195},{"x":0.24,"y":0.22},{"x":0.24,"y":0.245},{"x":0.24,"y":0.27},{"x":0.24,"y":0.295},{"x":0.24,"y":0.32},{"x":0.26,"y":0.15},{"x":0.26,"y":0.18},{"x":0.26,"y":0.205},{"x":0.26,"y":0.23},{"x":0.26,"y":0.255},{"x":0.26,"y":0.28},{"x":0.26,"y":0.305},{"x":0.26,"y":0.33},{"x":0.28,"y":0.16},{"x":0.28,"y":0.19},{"x":0.28,"y":0.215},{"x":0.28,"y":0.24},{"x":0.28,"y":0.265},{"x":0.28,"y":0.29},{"x":0.28,"y":0.315},{"x":0.28,"y":0.34},{"x":0.3,"y":0.17},{"x":0.3,"y":0.2},{"x":0.3,"y":0.225},{"x":0.3,"y":0.25},{"x":0.3,"y":0.275},{"x":0.3,"y":0.3},{"x":0.3,"y":0.325},{"x":0.3,"y":0.35},{"x":0.3,"y":0.38},{"x":0.32,"y":0.18},{"x":0.32,"y":0.21},{"x":0.32,"y":0.235},{"x":0.32,"y":0.26},{"x":0.32,"y":0.285},{"x":0.32,"y":0.31},{"x":0.32,"y":0.335},{"x":0.32,"y":0.36},{"x":0.32,"y":0.385},{"x":0.34,"y":0.19},{"x":0.34,"y":0.22},{"x":0.34,"y":0.245},{"x":0.34,"y":0.27},{"x":0.34,"y":0.295},{"x":0.34,"y":0.32},{"x":0.34,"y":0.345},{"x":0.34,"y":0.37},{"x":0.34,"y":0.395},{"x":0.36,"y":0.2},{"x":0.36,"y":0.23},{"x":0.36,"y":0.255},{"x":0.36,"y":0.28},{"x":0.36,"y":0.305},{"x":0.36,"y":0.33},{"x":0.36,"y":0.355},{"x":0.36,"y":0.38},{"x":0.36,"y":0.41},{"x":0.38,"y":0.21},{"x":0.38,"y":0.24},{"x":0.38,"y":0.265},{"x":0.38,"y":0.29},{"x":0.38,"y":0.315},{"x":0.38,"y":0.34},{"x":0.38,"y":0.365},{"x":0.38,"y":0.39},{"x":0.38,"y":0.42},{"x":0.4,"y":0.24},{"x":0.4,"y":0.27},{"x":0.4,"y":0.295},{"x":0.4,"y":0.32},{"x":0.4,"y":0.345},{"x":0.4,"y":0.37},{"x":0.4,"y":0.4},{"x":0.4,"y":0.44},{"x":0.42,"y":0.25},{"x":0.42,"y":0.28},{"x":0.42,"y":0.305},{"x":0.42,"y":0.33},{"x":0.42,"y":0.355},{"x":0.42,"y":0.38},{"x":0.42,"y":0.41},{"x":0.42,"y":0.45},{"x":0.44,"y":0.26},{"x":0.44,"y":0.29},{"x":0.44,"y":0.315},{"x":0.44,"y":0.34},{"x":0.44,"y":0.365},{"x":0.44,"y":0.395},{"x":0.44,"y":0.43},{"x":0.44,"y":0.47},{"x":0.46,"y":0.28},{"x":0.46,"y":0.31},{"x":0.46,"y":0.34},{"x":0.46,"y":0.37},{"x":0.46,"y":0.4},{"x":0.46,"y":0.43},{"x":0.46,"y":0.47},{"x":0.48,"y":0.3},{"x":0.48,"y":0.33},{"x":0.48,"y":0.36},{"x":0.48,"y":0.4},{"x":0.48,"y":0.44},{"x":0.48,"y":0.48},{"x":0.48,"y":0.52},{"x":0.5,"y":0.32},{"x":0.5,"y":0.35},{"x":0.5,"y":0.38},{"x":0.5,"y":0.41},{"x":0.5,"y":0.45},{"x":0.5,"y":0.5},{"x":0.52,"y":0.33},{"x":0.52,"y":0.36},{"x":0.52,"y":0.39},{"x":0.52,"y":0.43},{"x":0.52,"y":0.47},{"x":0.54,"y":0.36},{"x":0.54,"y":0.39},{"x":0.54,"y":0.43},{"x":0.54,"y":0.46},{"x":0.54,"y":0.5},{"x":0.56,"y":0.38},{"x":0.56,"y":0.42},{"x":0.56,"y":0.44},{"x":0.56,"y":0.48}],
"ta":[{"a":0,"b":0.04,"n":4},{"a":0.04,"b":0.08,"n":9},{"a":0.08,"b":0.12,"n":10},{"a":0.12,"b":0.16,"n":15},{"a":0.16,"b":0.2,"n":35},{"a":0.2,"b":0.24,"n":40},{"a":0.24,"b":0.28,"n":75},{"a":0.28,"b":0.32,"n":87},{"a":0.32,"b":0.36,"n":109},{"a":0.36,"b":0.4,"n":119},{"a":0.4,"b":0.44,"n":132},{"a":0.44,"b":0.48,"n":113},{"a":0.48,"b":0.52,"n":128},{"a":0.52,"b":0.56,"n":103},{"a":0.56,"b":0.6,"n":103},{"a":0.6,"b":0.64,"n":88},{"a":0.64,"b":0.68,"n":80},{"a":0.68,"b":0.72,"n":67},{"a":0.72,"b":0.76,"n":49},{"a":0.76,"b":0.8,"n":37},{"a":0.8,"b":0.84,"n":29},{"a":0.84,"b":0.88,"n":26},{"a":0.88,"b":0.92,"n":17},{"a":0.92,"b":0.96,"n":12},{"a":0.96,"b":1,"n":9}],
"tb":[{"a":0,"b":0.0244,"n":1},{"a":0.0244,"b":0.0488,"n":1},{"a":0.0488,"b":0.0732,"n":5},{"a":0.0732,"b":0.0976,"n":1},{"a":0.0976,"b":0.122,"n":14},{"a":0.122,"b":0.1463,"n":17},{"a":0.1463,"b":0.1707,"n":26},{"a":0.1707,"b":0.1951,"n":40},{"a":0.1951,"b":0.2195,"n":77},{"a":0.2195,"b":0.2439,"n":97},{"a":0.2439,"b":0.2683,"n":109},{"a":0.2683,"b":0.2927,"n":124},{"a":0.2927,"b":0.3171,"n":132},{"a":0.3171,"b":0.3415,"n":113},{"a":0.3415,"b":0.3659,"n":121},{"a":0.3659,"b":0.3902,"n":86},{"a":0.3902,"b":0.4146,"n":80},{"a":0.4146,"b":0.439,"n":57},{"a":0.439,"b":0.4634,"n":49},{"a":0.4634,"b":0.4878,"n":43},{"a":0.4878,"b":0.5122,"n":18},{"a":0.5122,"b":0.5366,"n":27},{"a":0.5366,"b":0.561,"n":25},{"a":0.561,"b":0.5854,"n":21},{"a":0.5854,"b":0.6098,"n":23},{"a":0.6098,"b":0.6341,"n":14},{"a":0.6341,"b":0.6585,"n":19},{"a":0.6585,"b":0.6829,"n":11},{"a":0.6829,"b":0.7073,"n":7},{"a":0.7073,"b":0.7317,"n":6},{"a":0.7317,"b":0.7561,"n":7},{"a":0.7561,"b":0.7805,"n":4},{"a":0.7805,"b":0.8049,"n":1},{"a":0.8049,"b":0.8293,"n":4},{"a":0.8293,"b":0.8537,"n":3},{"a":0.8537,"b":0.878,"n":3},{"a":0.878,"b":0.9024,"n":3},{"a":0.9024,"b":0.9268,"n":1},{"a":0.9268,"b":0.9512,"n":3},{"a":0.9512,"b":0.9756,"n":1},{"a":0.9756,"b":1,"n":1}],
"tc":[{"a":0,"b":0.0263,"n":14},{"a":0.0263,"b":0.0526,"n":29},{"a":0.0526,"b":0.0789,"n":59},{"a":0.0789,"b":0.1053,"n":86},{"a":0.1053,"b":0.1316,"n":79},{"a":0.1316,"b":0.1579,"n":127},{"a":0.1579,"b":0.1842,"n":122},{"a":0.1842,"b":0.2105,"n":126},{"a":0.2105,"b":0.2368,"n":132},{"a":0.2368,"b":0.2632,"n":100},{"a":0.2632,"b":0.2895,"n":102},{"a":0.2895,"b":0.3158,"n":105},{"a":0.3158,"b":0.3421,"n":86},{"a":0.3421,"b":0.3684,"n":69},{"a":0.3684,"b":0.3947,"n":46},{"a":0.3947,"b":0.4211,"n":50},{"a":0.4211,"b":0.4474,"n":35},{"a":0.4474,"b":0.4737,"n":32},{"a":0.4737,"b":0.5,"n":20},{"a":0.5,"b":0.5263,"n":13},{"a":0.5263,"b":0.5526,"n":13},{"a":0.5526,"b":0.5789,"n":10},{"a":0.5789,"b":0.6053,"n":11},{"a":0.6053,"b":0.6316,"n":5},{"a":0.6316,"b":0.6579,"n":7},{"a":0.6579,"b":0.6842,"n":4},{"a":0.6842,"b":0.7105,"n":7},{"a":0.7105,"b":0.7368,"n":1},{"a":0.7368,"b":0.7632,"n":4},{"a":0.7632,"b":0.7895,"n":1},{"a":0.7895,"b":0.8158,"n":3},{"a":0.8158,"b":0.8421,"n":1},{"a":0.8421,"b":0.8684,"n":4},{"a":0.8684,"b":0.8947,"n":4},{"a":0.8947,"b":0.9211,"n":1},{"a":0.9211,"b":0.9474,"n":1},{"a":0.9474,"b":0.9737,"n":1},{"a":0.9737,"b":1,"n":1}],
"ra":[{"a":0.01,"b":0.051,"n":1},{"a":0.051,"b":0.092,"n":2},{"a":0.092,"b":0.132,"n":4},{"a":0.132,"b":0.173,"n":12},{"a":0.173,"b":0.214,"n":15},{"a":0.214,"b":0.255,"n":37},{"a":0.255,"b":0.295,"n":52},{"a":0.295,"b":0.336,"n":72},{"a":0.336,"b":0.377,"n":99},{"a":0.377,"b":0.418,"n":120},{"a":0.418,"b":0.458,"n":129},{"a":0.458,"b":0.499,"n":125},{"a":0.499,"b":0.54,"n":109},{"a":0.54,"b":0.581,"n":94},{"a":0.581,"b":0.622,"n":81},{"a":0.622,"b":0.663,"n":69},{"a":0.663,"b":0.703,"n":54},{"a":0.703,"b":0.744,"n":33},{"a":0.744,"b":0.785,"n":22},{"a":0.785,"b":0.826,"n":15},{"a":0.826,"b":0.867,"n":10},{"a":0.867,"b":0.907,"n":8},{"a":0.907,"b":0.948,"n":2},{"a":0.948,"b":0.99,"n":5}],
"rb":[{"a":0.048,"b":0.066,"n":3},{"a":0.066,"b":0.083,"n":3},{"a":0.083,"b":0.101,"n":3},{"a":0.119,"b":0.137,"n":3},{"a":0.137,"b":0.154,"n":3},{"a":0.154,"b":0.172,"n":6},{"a":0.172,"b":0.19,"n":14},{"a":0.19,"b":0.207,"n":18},{"a":0.207,"b":0.225,"n":24},{"a":0.225,"b":0.243,"n":30},{"a":0.243,"b":0.26,"n":60},{"a":0.26,"b":0.278,"n":70},{"a":0.278,"b":0.296,"n":108},{"a":0.296,"b":0.314,"n":120},{"a":0.314,"b":0.331,"n":128},{"a":0.331,"b":0.349,"n":118},{"a":0.349,"b":0.367,"n":120},{"a":0.367,"b":0.384,"n":89},{"a":0.384,"b":0.402,"n":78},{"a":0.402,"b":0.42,"n":68},{"a":0.42,"b":0.437,"n":44},{"a":0.437,"b":0.455,"n":36},{"a":0.455,"b":0.473,"n":38},{"a":0.473,"b":0.491,"n":31},{"a":0.491,"b":0.508,"n":21},{"a":0.508,"b":0.526,"n":27},{"a":0.526,"b":0.544,"n":24},{"a":0.544,"b":0.561,"n":13},{"a":0.561,"b":0.579,"n":18},{"a":0.579,"b":0.597,"n":10},{"a":0.597,"b":0.614,"n":10},{"a":0.614,"b":0.632,"n":10},{"a":0.632,"b":0.65,"n":5},{"a":0.65,"b":0.668,"n":5},{"a":0.668,"b":0.685,"n":5},{"a":0.685,"b":0.703,"n":5},{"a":0.703,"b":0.721,"n":5},{"a":0.721,"b":0.738,"n":2},{"a":0.738,"b":0.756,"n":2},{"a":0.756,"b":0.774,"n":2}],
"rc":[{"a":0.033,"b":0.053,"n":5},{"a":0.053,"b":0.075,"n":18},{"a":0.075,"b":0.095,"n":36},{"a":0.095,"b":0.115,"n":56},{"a":0.115,"b":0.137,"n":75},{"a":0.137,"b":0.157,"n":90},{"a":0.157,"b":0.177,"n":115},{"a":0.177,"b":0.197,"n":98},{"a":0.197,"b":0.219,"n":128},{"a":0.219,"b":0.239,"n":128},{"a":0.239,"b":0.259,"n":100},{"a":0.259,"b":0.279,"n":100},{"a":0.279,"b":0.301,"n":86},{"a":0.301,"b":0.321,"n":53},{"a":0.321,"b":0.341,"n":53},{"a":0.341,"b":0.363,"n":44},{"a":0.363,"b":0.383,"n":40},{"a":0.383,"b":0.403,"n":30},{"a":0.403,"b":0.424,"n":22},{"a":0.424,"b":0.445,"n":20},{"a":0.445,"b":0.465,"n":14},{"a":0.465,"b":0.485,"n":14},{"a":0.485,"b":0.507,"n":14},{"a":0.507,"b":0.527,"n":10},{"a":0.527,"b":0.547,"n":7},{"a":0.547,"b":0.569,"n":6},{"a":0.569,"b":0.589,"n":5},{"a":0.589,"b":0.609,"n":4},{"a":0.609,"b":0.63,"n":3},{"a":0.651,"b":0.671,"n":2},{"a":0.671,"b":0.692,"n":2},{"a":0.692,"b":0.712,"n":4}],
"diag":[{"x":0,"y":0},{"x":1,"y":1}],
"none":[]
},
"hconcat":[
{"columns":2,"bounds":"flush","spacing":9,"concat":[
{"width":260,"height":46,"data":{"name":"ta"},"mark":{"type":"rect","color":"#08589e","opacity":0.42,"clip":true},"encoding":{"x":{"field":"a","type":"quantitative","scale":{"domain":[0,1],"nice":false},"axis":{"values":[0,0.2,0.4,0.6,0.8,1],"labels":false,"ticks":false,"domain":false,"title":null,"grid":true,"gridColor":"white","gridWidth":1.2}},"x2":{"field":"b"},"y":{"field":"n","type":"quantitative","scale":{"domain":[0,138],"nice":false},"axis":null},"y2":{"datum":0}}},
{"width":45,"height":46,"view":{"fill":null},"data":{"name":"none"},"mark":{"type":"point","opacity":0},"encoding":{"x":{"field":"x","type":"quantitative","axis":null},"y":{"field":"y","type":"quantitative","axis":null}}},
{"width":260,"height":264.5,"title":{"text":"(a) Temperature","orient":"bottom","font":"Liberation Serif","fontSize":26,"fontWeight":"normal","color":"#111111","anchor":"middle","dx":7,"offset":14},"encoding":{"x":{"field":"x","type":"quantitative","scale":{"domain":[0,1],"nice":false},"axis":{"values":[0,0.2,0.4,0.6,0.8,1],"format":".1f","title":"measured","titleFont":"Liberation Sans","titleFontSize":14,"titleFontWeight":"normal","titleColor":"#333333","titlePadding":5,"labelFontSize":13,"labelColor":"#3b3b3b","labelPadding":6,"labelOverlap":false,"labelBound":false,"labelFlush":false,"ticks":false,"domain":false,"grid":true,"gridColor":"white","gridWidth":1.2}},"y":{"field":"y","type":"quantitative","scale":{"domain":[0,1],"nice":false},"axis":{"values":[0,0.2,0.4,0.6,0.8,1],"format":".1f","title":"predicted","titleFont":"Liberation Sans","titleFontSize":14,"titleFontWeight":"normal","titleColor":"#333333","titlePadding":4,"labelFontSize":13,"labelColor":{"condition":{"test":"datum.value==1","value":"#24398c"},"value":"#3b3b3b"},"labelPadding":6,"labelOverlap":false,"labelBound":false,"labelFlush":false,"ticks":false,"domain":false,"grid":true,"gridColor":"white","gridWidth":1.2}}},"layer":[{"data":{"name":"pa"},"mark":{"type":"circle","size":56,"opacity":1,"color":"#0A5EA3","clip":true}},{"data":{"name":"pat"},"mark":{"type":"circle","size":56,"opacity":1,"color":"#15697F","clip":true}},{"data":{"name":"diag"},"mark":{"type":"line","color":"#0E1A44","strokeWidth":1.6,"strokeDash":[1.5,2.5],"clip":false}}]},
{"width":45,"height":264.5,"data":{"name":"ra"},"mark":{"type":"rect","color":"#08589e","opacity":0.42,"clip":true},"encoding":{"y":{"field":"a","type":"quantitative","scale":{"domain":[0,1],"nice":false},"axis":{"values":[0,0.2,0.4,0.6,0.8,1],"labels":false,"ticks":false,"domain":false,"title":null,"grid":true,"gridColor":"white","gridWidth":1.2}},"y2":{"field":"b"},"x":{"field":"n","type":"quantitative","scale":{"domain":[0,135],"nice":false},"axis":null},"x2":{"datum":0}}}
]},
{"columns":2,"bounds":"flush","spacing":9,"concat":[
{"width":260,"height":46,"data":{"name":"tb"},"mark":{"type":"rect","color":"#08589e","opacity":0.42,"clip":true,"stroke":"#08589e","strokeWidth":0.4},"encoding":{"x":{"field":"a","type":"quantitative","scale":{"domain":[0,1],"nice":false},"axis":{"values":[0,0.2,0.4,0.6,0.8,1],"labels":false,"ticks":false,"domain":false,"title":null,"grid":true,"gridColor":"white","gridWidth":1.2}},"x2":{"field":"b"},"y":{"field":"n","type":"quantitative","scale":{"domain":[0,138],"nice":false},"axis":null},"y2":{"datum":0}}},
{"width":45,"height":46,"view":{"fill":null},"data":{"name":"none"},"mark":{"type":"point","opacity":0},"encoding":{"x":{"field":"x","type":"quantitative","axis":null},"y":{"field":"y","type":"quantitative","axis":null}}},
{"width":260,"height":264.5,"title":{"text":"(b) Carbon","orient":"bottom","font":"Liberation Serif","fontSize":26,"fontWeight":"normal","color":"#111111","anchor":"middle","dx":6,"offset":14},"encoding":{"x":{"field":"x","type":"quantitative","scale":{"domain":[0,1],"nice":false},"axis":{"values":[0,0.2,0.4,0.6,0.8,1],"format":".1f","title":"measured","titleFont":"Liberation Sans","titleFontSize":14,"titleFontWeight":"normal","titleColor":"#333333","titlePadding":5,"labelFontSize":13,"labelColor":"#3b3b3b","labelPadding":6,"labelOverlap":false,"labelBound":false,"labelFlush":false,"ticks":false,"domain":false,"grid":true,"gridColor":"white","gridWidth":1.2}},"y":{"field":"y","type":"quantitative","scale":{"domain":[0,1],"nice":false},"axis":{"values":[0,0.2,0.4,0.6,0.8,1],"format":".1f","title":"predicted","titleFont":"Liberation Sans","titleFontSize":14,"titleFontWeight":"normal","titleColor":"#333333","titlePadding":4,"labelFontSize":13,"labelColor":{"condition":{"test":"datum.value==1","value":"#24398c"},"value":"#3b3b3b"},"labelPadding":6,"labelOverlap":false,"labelBound":false,"labelFlush":false,"ticks":false,"domain":false,"grid":true,"gridColor":"white","gridWidth":1.2}}},"layer":[{"data":{"name":"pb"},"mark":{"type":"circle","size":56,"opacity":1,"color":"#0A5EA3","clip":true}},{"data":{"name":"diag"},"mark":{"type":"line","color":"#0E1A44","strokeWidth":1.6,"strokeDash":[1.5,2.5],"clip":false}}]},
{"width":45,"height":264.5,"data":{"name":"rb"},"mark":{"type":"rect","color":"#08589e","opacity":0.42,"clip":true,"stroke":"#08589e","strokeWidth":0.4},"encoding":{"y":{"field":"a","type":"quantitative","scale":{"domain":[0,1],"nice":false},"axis":{"values":[0,0.2,0.4,0.6,0.8,1],"labels":false,"ticks":false,"domain":false,"title":null,"grid":true,"gridColor":"white","gridWidth":1.2}},"y2":{"field":"b"},"x":{"field":"n","type":"quantitative","scale":{"domain":[0,135],"nice":false},"axis":null},"x2":{"datum":0}}}
]},
{"columns":2,"bounds":"flush","spacing":9,"concat":[
{"width":260,"height":46,"data":{"name":"tc"},"mark":{"type":"rect","color":"#08589e","opacity":0.42,"clip":true,"stroke":"#08589e","strokeWidth":0.4},"encoding":{"x":{"field":"a","type":"quantitative","scale":{"domain":[0,1],"nice":false},"axis":{"values":[0,0.2,0.4,0.6,0.8,1],"labels":false,"ticks":false,"domain":false,"title":null,"grid":true,"gridColor":"white","gridWidth":1.2}},"x2":{"field":"b"},"y":{"field":"n","type":"quantitative","scale":{"domain":[0,138],"nice":false},"axis":null},"y2":{"datum":0}}},
{"width":45,"height":46,"view":{"fill":null},"data":{"name":"none"},"mark":{"type":"point","opacity":0},"encoding":{"x":{"field":"x","type":"quantitative","axis":null},"y":{"field":"y","type":"quantitative","axis":null}}},
{"width":260,"height":264.5,"title":{"text":"(c) Phosphorus","orient":"bottom","font":"Liberation Serif","fontSize":26,"fontWeight":"normal","color":"#111111","anchor":"middle","dx":7,"offset":14},"encoding":{"x":{"field":"x","type":"quantitative","scale":{"domain":[0,1],"nice":false},"axis":{"values":[0,0.2,0.4,0.6,0.8,1],"format":".1f","title":"measured","titleFont":"Liberation Sans","titleFontSize":14,"titleFontWeight":"normal","titleColor":"#333333","titlePadding":5,"labelFontSize":13,"labelColor":"#3b3b3b","labelPadding":6,"labelOverlap":false,"labelBound":false,"labelFlush":false,"ticks":false,"domain":false,"grid":true,"gridColor":"white","gridWidth":1.2}},"y":{"field":"y","type":"quantitative","scale":{"domain":[0,1],"nice":false},"axis":{"values":[0,0.2,0.4,0.6,0.8,1],"format":".1f","title":"predicted","titleFont":"Liberation Sans","titleFontSize":14,"titleFontWeight":"normal","titleColor":"#333333","titlePadding":4,"labelFontSize":13,"labelColor":{"condition":{"test":"datum.value==1","value":"#24398c"},"value":"#3b3b3b"},"labelPadding":6,"labelOverlap":false,"labelBound":false,"labelFlush":false,"ticks":false,"domain":false,"grid":true,"gridColor":"white","gridWidth":1.2}}},"layer":[{"data":{"name":"pc"},"mark":{"type":"circle","size":56,"opacity":1,"color":"#0A5EA3","clip":true}},{"data":{"name":"diag"},"mark":{"type":"line","color":"#0E1A44","strokeWidth":1.6,"strokeDash":[1.5,2.5],"clip":false}}]},
{"width":45,"height":264.5,"data":{"name":"rc"},"mark":{"type":"rect","color":"#08589e","opacity":0.42,"clip":true},"encoding":{"y":{"field":"a","type":"quantitative","scale":{"domain":[0,1],"nice":false},"axis":{"values":[0,0.2,0.4,0.6,0.8,1],"labels":false,"ticks":false,"domain":false,"title":null,"grid":true,"gridColor":"white","gridWidth":1.2}},"y2":{"field":"b"},"x":{"field":"n","type":"quantitative","scale":{"domain":[0,135],"nice":false},"axis":null},"x2":{"datum":0}}}
]}
]}
